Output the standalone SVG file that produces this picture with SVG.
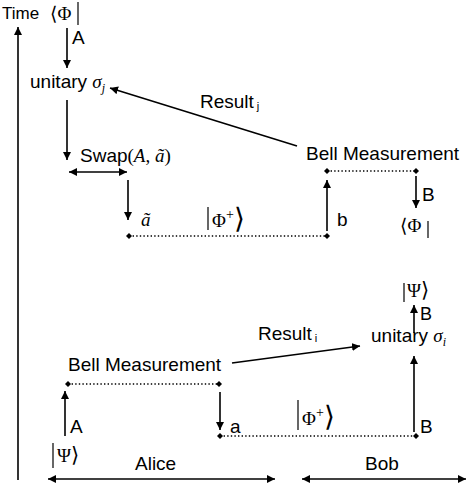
<svg xmlns="http://www.w3.org/2000/svg" width="469" height="484" viewBox="0 0 469 484">
<defs>
<marker id="ah" viewBox="0 0 10 10" refX="10" refY="5" markerWidth="8" markerHeight="8" markerUnits="userSpaceOnUse" orient="auto-start-reverse">
<path d="M0,0 L10,5 L0,10 z" fill="#000"/>
</marker>
<marker id="dot" viewBox="0 0 10 10" refX="5" refY="5" markerWidth="6" markerHeight="6" markerUnits="userSpaceOnUse">
<path d="M5,0 L10,5 L5,10 L0,5 z" fill="#000"/>
</marker>
<style>
.t{font-family:"Liberation Sans",Arial,sans-serif;font-size:19px;fill:#000}
.m{font-family:"Liberation Serif","DejaVu Serif",serif;font-size:19px;fill:#000}
.i{font-style:italic}
.k{font-family:"DejaVu Sans",sans-serif;font-weight:200;font-style:normal}
.a{stroke:#000;stroke-width:1.6;fill:none;marker-end:url(#ah)}
.d{stroke:#000;stroke-width:1.6;fill:none;marker-start:url(#ah);marker-end:url(#ah)}
.dt{stroke:#000;stroke-width:1.4;fill:none;stroke-dasharray:1.4 2.2;marker-start:url(#dot);marker-end:url(#dot)}
.b{stroke:#000;stroke-width:1.2}
</style>
</defs>
<g id="time">
<text class="t" x="2" y="19" style="font-size:17px">Time</text>
</g>
<g id="phi-top">
<text class="m" x="50" y="20">⟨Φ</text>
<line class="b" x1="78" y1="2" x2="78" y2="25"/>
</g>
<g id="unitary-j"><text class="t" x="30" y="88">unitary <tspan class="m i">σ</tspan><tspan class="m i" style="font-size:12px" dy="4">j</tspan></text></g>
<g id="result-j"><text class="t" x="200" y="108">Result<tspan style="font-size:11px" dx="3" dy="2">j</tspan></text></g>
<g id="swap"><text class="t" x="80" y="162">Swap<tspan class="m">(<tspan class="i">A</tspan>, <tspan class="i">ã</tspan>)</tspan></text></g>
<g id="atilde"><text class="m i" x="141" y="226">ã</text></g>
<g id="phiplus-top">
<line class="b" x1="208" y1="207" x2="208" y2="230"/>
<text class="m" x="212" y="227">Φ<tspan style="font-size:14px" dy="-8">+</tspan><tspan class="k" dy="9" style="font-size:28px">⟩</tspan></text>
</g>
<g id="b-label"><text class="t" x="337" y="226">b</text></g>
<g id="bell-top"><text class="t" x="306" y="160">Bell Measurement</text></g>
<g id="B-top"><text class="t" x="422" y="201">B</text></g>
<g id="phi-right">
<text class="m" x="400" y="232">⟨Φ</text>
<line class="b" x1="428" y1="221" x2="428" y2="238"/>
</g>
<g id="A-top"><text class="t" x="72" y="44">A</text></g>
<g id="psi-right">
<line class="b" x1="404" y1="283" x2="404" y2="302"/>
<text class="m" x="407" y="297">Ψ<tspan class="k" style="font-size:21px">⟩</tspan></text>
</g>
<g id="B-mid"><text class="t" x="420" y="320" style="font-size:18px">B</text></g>
<g id="unitary-i"><text class="t" x="371" y="342">unitary <tspan class="m i">σ</tspan><tspan class="m i" style="font-size:12px" dy="4">i</tspan></text></g>
<g id="result-i"><text class="t" x="258" y="340">Result<tspan style="font-size:11px" dx="3" dy="2">i</tspan></text></g>
<g id="bell-bottom"><text class="t" x="68" y="371">Bell Measurement</text></g>
<g id="A-bottom"><text class="t" x="70" y="433">A</text></g>
<g id="a-label"><text class="t" x="230" y="433">a</text></g>
<g id="B-bottom"><text class="t" x="420" y="433">B</text></g>
<g id="phiplus-bottom">
<line class="b" x1="298" y1="400" x2="298" y2="430"/>
<text class="m" x="302" y="425">Φ<tspan style="font-size:14px" dy="-8">+</tspan><tspan class="k" dy="9" style="font-size:28px">⟩</tspan></text>
</g>
<g id="psi-left">
<line class="b" x1="53" y1="443" x2="53" y2="468"/>
<text class="m" x="57" y="462">Ψ<tspan class="k" style="font-size:21px">⟩</tspan></text>
</g>
<g id="alice"><text class="t" x="135" y="470">Alice</text></g>
<g id="bob"><text class="t" x="365" y="470">Bob</text></g>
<g id="connectors">
<line class="a" x1="18" y1="480" x2="18" y2="27"/>
<line class="a" x1="67" y1="28" x2="67" y2="68"/>
<line class="a" x1="297" y1="146" x2="110" y2="88"/>
<line class="a" x1="67" y1="100" x2="67" y2="160"/>
<line class="d" x1="69" y1="172" x2="127" y2="172"/>
<line class="a" x1="128" y1="180" x2="128" y2="220"/>
<line class="dt" x1="129" y1="236" x2="327" y2="236"/>
<line class="a" x1="327" y1="231" x2="327" y2="180"/>
<line class="dt" x1="327" y1="171" x2="416" y2="171"/>
<line class="a" x1="416" y1="176" x2="416" y2="208"/>
<line class="a" x1="414" y1="333" x2="414" y2="305"/>
<line class="a" x1="232" y1="363" x2="360" y2="346"/>
<line class="dt" x1="68" y1="384" x2="219" y2="384"/>
<line class="a" x1="65" y1="436" x2="65" y2="391"/>
<line class="a" x1="220" y1="392" x2="220" y2="430"/>
<line class="dt" x1="220" y1="436" x2="416" y2="436"/>
<line class="a" x1="414" y1="432" x2="414" y2="356"/>
<line class="d" x1="48" y1="479" x2="275" y2="479"/>
<line class="d" x1="302" y1="479" x2="466" y2="479"/>
</g>
</svg>
